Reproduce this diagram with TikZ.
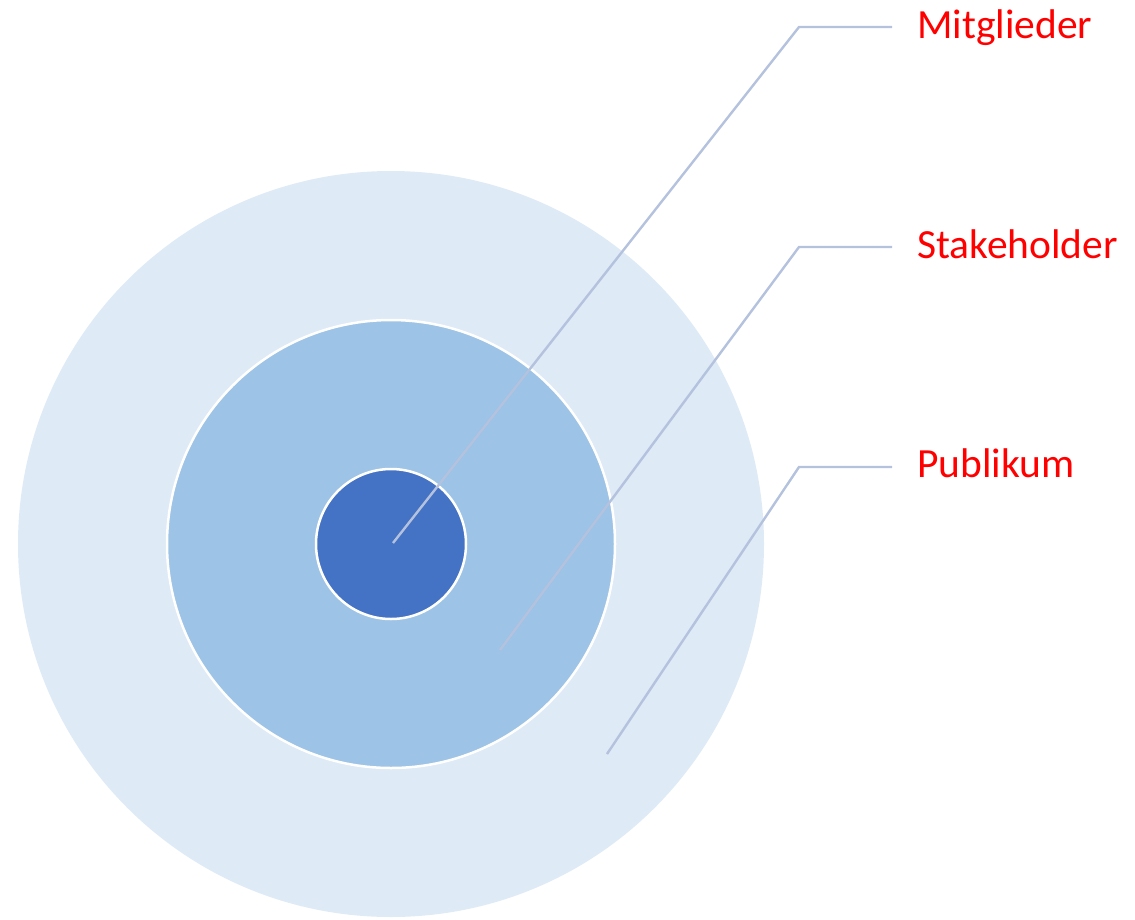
\documentclass[tikz,border=0pt]{standalone}
\usepackage{fontspec}
\setmainfont{Carlito}
\definecolor{ringouter}{HTML}{DEEAF6}
\definecolor{ringmid}{HTML}{9DC3E6}
\definecolor{ringcore}{HTML}{4472C4}
\definecolor{leader}{HTML}{B4C2DE}
\definecolor{labelred}{HTML}{FF0000}
\begin{document}
\begin{tikzpicture}[x=1pt,y=-1pt,
  ring/.style={circle,draw=white,line width=2.5pt,inner sep=0pt},
  leaderline/.style={draw=leader,line width=2.4pt},
  tag/.style={text=labelred,font=\fontsize{41.5}{48}\selectfont,anchor=base west,inner sep=0pt}]
\useasboundingbox (0,0) rectangle (1135,919);
% concentric rings
\node[ring,draw=none,fill=ringouter,minimum size=746pt] (outer) at (391,544) {};
\node[ring,fill=ringmid,minimum size=448pt] (mid) at (391,544) {};
\node[ring,fill=ringcore,minimum size=150pt] (core) at (391,544) {};
% leader end points
\coordinate (pm) at (393,543);
\coordinate (ps) at (500,650);
\coordinate (pp) at (607,754);
% labels
\node[tag] (tm) at (917,38) {Mitglieder};
\node[tag] (ts) at (917,258) {Stakeholder};
\node[tag] (tp) at (917,477) {Publikum};
% leader lines
\draw[leaderline] (pm) -- (799,27) -- (892,27);
\draw[leaderline] (ps) -- (799,247) -- (892,247);
\draw[leaderline] (pp) -- (799,467) -- (892,467);
\end{tikzpicture}
\end{document}
